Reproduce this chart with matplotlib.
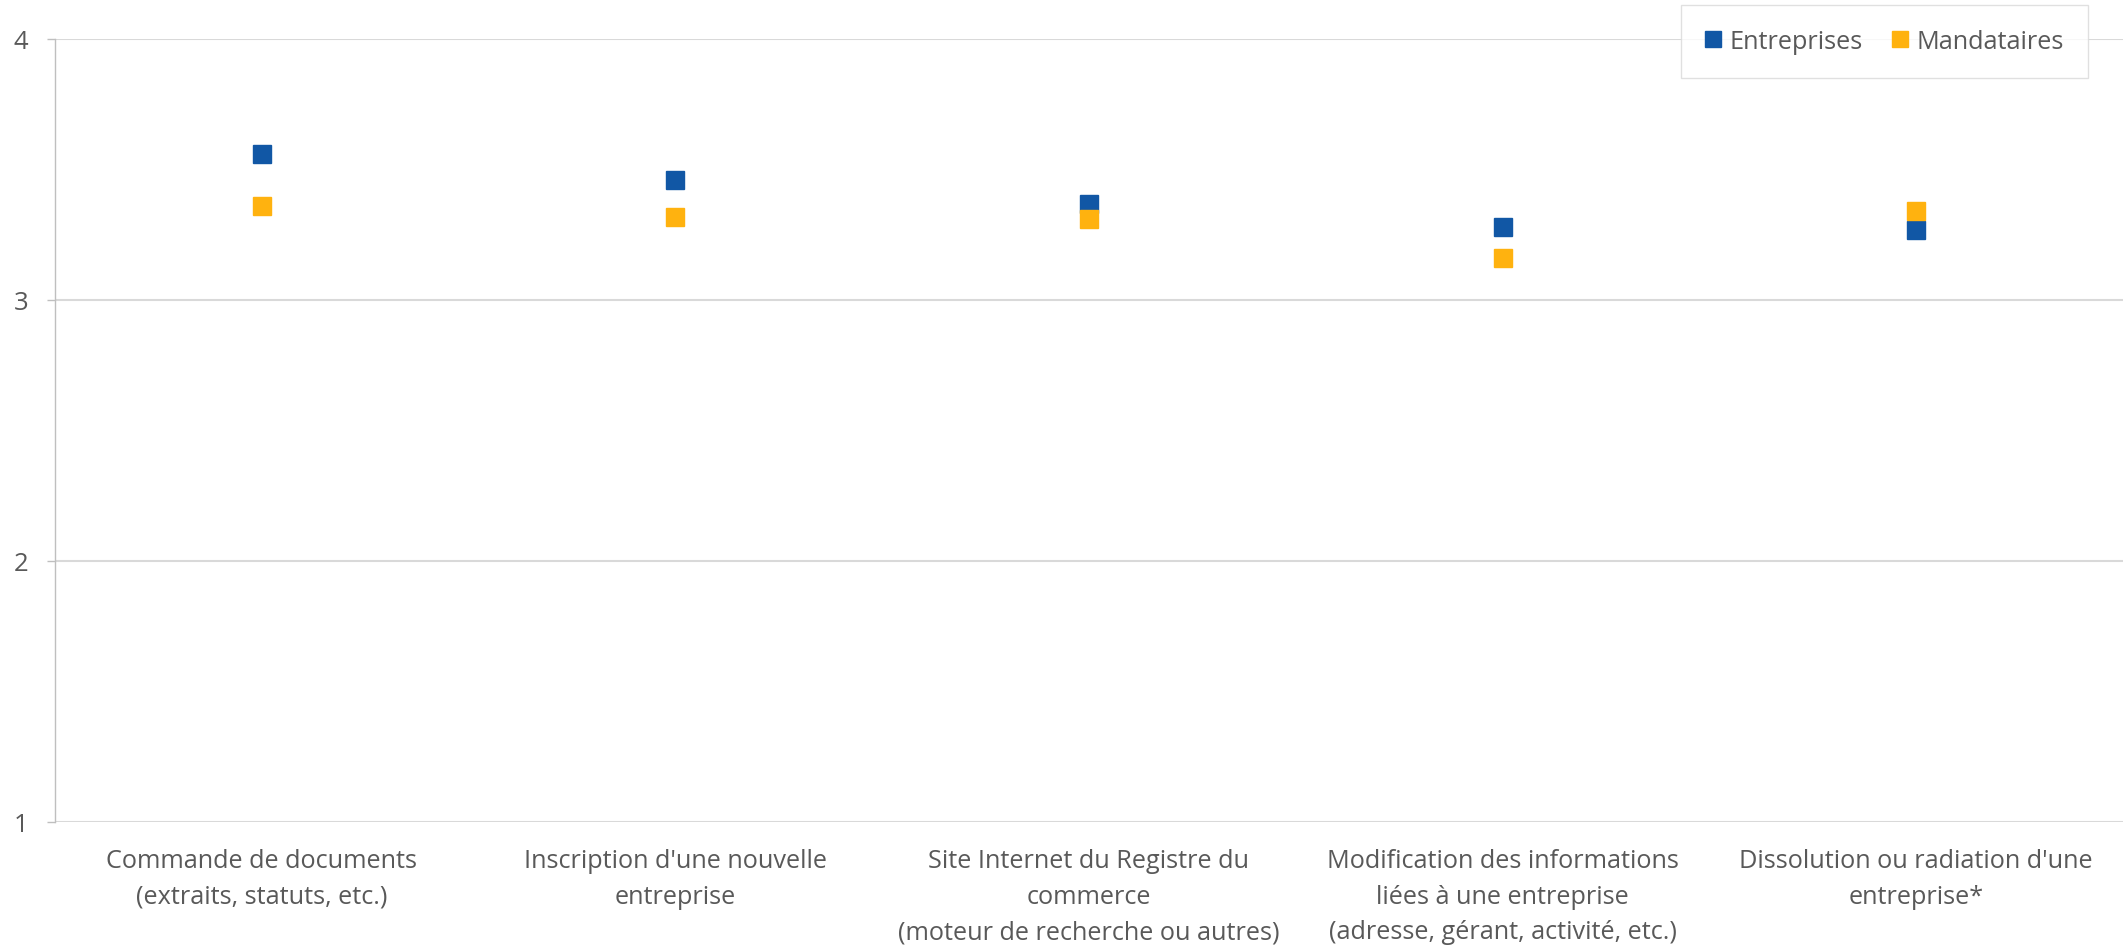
import matplotlib
matplotlib.use("Agg")
import matplotlib.pyplot as plt

plt.rcParams['font.family'] = ['Open Sans', 'DejaVu Sans']

categories = [
    "Commande de documents\n(extraits, statuts, etc.)",
    "Inscription d'une nouvelle\nentreprise",
    "Site Internet du Registre du\ncommerce\n(moteur de recherche ou autres)",
    "Modification des informations\nliées à une entreprise\n(adresse, gérant, activité, etc.)",
    "Dissolution ou radiation d'une\nentreprise*",
]
entreprises = [3.56, 3.46, 3.37, 3.28, 3.27]
mandataires = [3.36, 3.32, 3.31, 3.16, 3.34]
yticks = [1, 2, 3, 4]

BLUE = "#1157A5"
ORANGE = "#FFB20F"
TEXT = "#595959"
GRID = "#D9D9D9"

fig = plt.figure(figsize=(21.25, 9.519), dpi=100)
ax = fig.add_axes([55/2125, 1-823/952, (2123-55)/2125, (823-40)/952])

x = [i + 0.5 for i in range(len(categories))]
ax.plot(x, entreprises, linestyle='none', marker='s', markersize=13.5,
        color=BLUE, label='Entreprises', zorder=3)
ax.plot(x, mandataires, linestyle='none', marker='s', markersize=13.5,
        color=ORANGE, label='Mandataires', zorder=4)

ax.set_xlim(0, len(categories))
ax.set_ylim(1, 4)
ax.set_yticks(yticks)
ax.set_yticklabels([str(v) for v in yticks])
ax.set_xticks(x)
ax.set_xticklabels(categories, linespacing=1.55)

ax.grid(axis='y', color=GRID, linewidth=1.5, zorder=0)
ax.set_axisbelow(True)
for s in ['top', 'right', 'bottom']:
    ax.spines[s].set_visible(False)
ax.spines['left'].set_color('#BFBFBF')
ax.spines['left'].set_linewidth(1.0)

ax.tick_params(axis='y', length=6, width=1.0, color='#BFBFBF', pad=13,
               labelsize=18.5, labelcolor=TEXT)
ax.tick_params(axis='x', length=0, pad=19, labelsize=18.2, labelcolor=TEXT)

leg = ax.legend(loc='upper right', bbox_to_anchor=(2088/2125, 1-6/952),
                bbox_transform=fig.transFigure, ncol=2, frameon=True,
                fancybox=False, fontsize=18.2, handlelength=0.6,
                handletextpad=0.35, columnspacing=1.2, borderpad=0.95,
                borderaxespad=0, markerscale=0.83)
leg.get_frame().set_edgecolor('#D9D9D9')
leg.get_frame().set_linewidth(1.0)
for t in leg.get_texts():
    t.set_color(TEXT)

fig.savefig("out.png", dpi=100)
